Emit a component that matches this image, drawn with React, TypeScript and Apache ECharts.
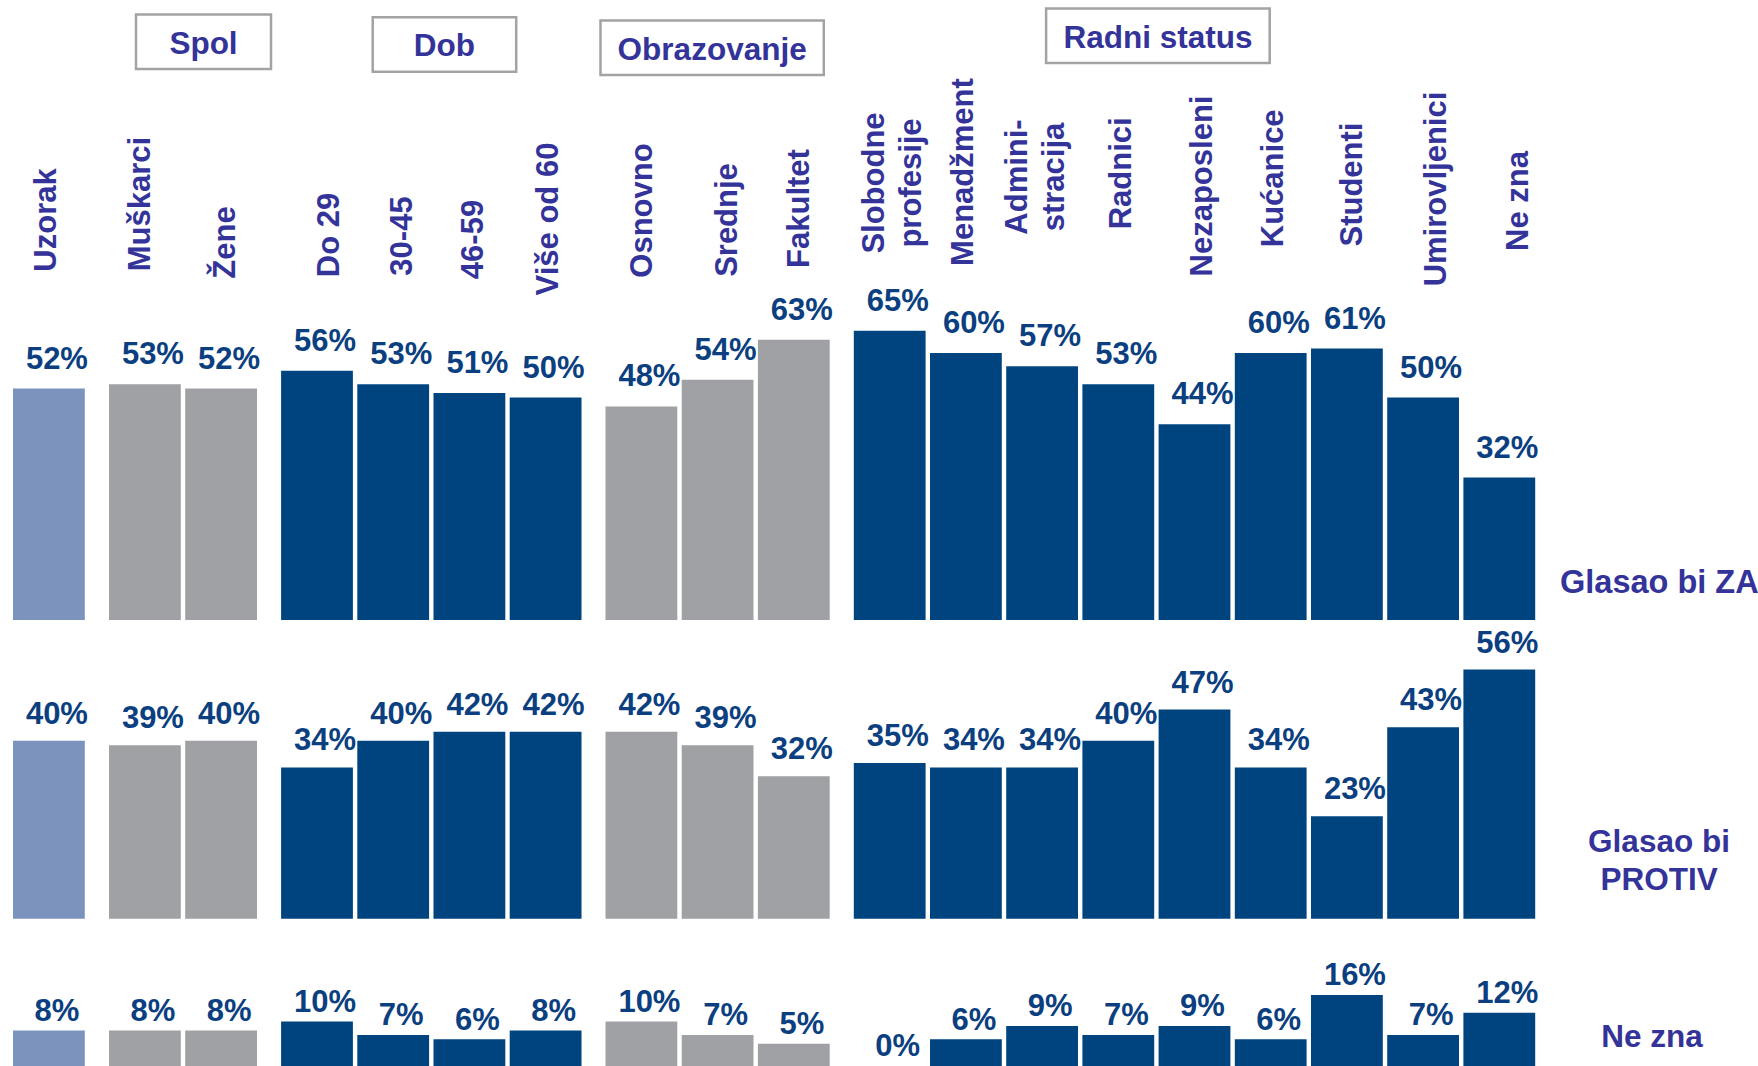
import React, { useEffect, useRef } from 'react';
import * as echarts from 'echarts';

// ---------- data ----------
const groupCategories: string[][] = [
  ['Uzorak'],
  ['Muškarci', 'Žene'],
  ['Do 29', '30-45', '46-59', 'Više od 60'],
  ['Osnovno', 'Srednje', 'Fakultet'],
  ['Slobodne\nprofesije', 'Menadžment', 'Admini-\nstracija', 'Radnici', 'Nezaposleni', 'Kućanice', 'Studenti', 'Umirovljenici', 'Ne zna'],
];
const groupTitles = ['', 'Spol', 'Dob', 'Obrazovanje', 'Radni status'];
const rowNames = ['Glasao bi ZA', 'Glasao bi\nPROTIV', 'Ne zna'];

const zaValues = [[52], [53, 52], [56, 53, 51, 50], [48, 54, 63], [65, 60, 57, 53, 44, 60, 61, 50, 32]];
const protivValues = [[40], [39, 40], [34, 40, 42, 42], [42, 39, 32], [35, 34, 34, 40, 47, 34, 23, 43, 56]];
const neZnaValues = [[8], [8, 8], [10, 7, 6, 8], [10, 7, 5], [0, 6, 9, 7, 9, 6, 16, 7, 12]];
const rowValues = [zaValues, protivValues, neZnaValues];

// ---------- layout & style ----------
const W = 1758;
const H = 1066;
const PITCH = 76.2;
const BAR_W = 71.8;
const PX_PER_PCT = 4.45;
const Y_MAX = 100;
const groupLeft = [10.8, 106.8, 278.9, 603.3, 851.6];
const rowBaseline = [620, 918.7, 1066.5];
const labelDistance = [15, 12, 4.7];
const groupColors = ['#7C93BE', '#A0A1A5', '#00447F', '#A0A1A5', '#00447F'];
const catLabelPos: number[][] = [
  [45, 220], [139.5, 204], [224.7, 242.5], [328.5, 235], [401.5, 236], [472.7, 239.5], [547, 219],
  [641.6, 210.5], [726, 220], [798, 208.5], [891.5, 183], [962.5, 172], [1035, 177], [1120.6, 173.3],
  [1201, 186], [1272.8, 178.3], [1351.8, 184.5], [1435, 189], [1517, 201],
];
const titleBoxes: number[][] = [
  [], [136, 14.5, 135, 54.5], [372.7, 17.2, 143.5, 54.5], [600.5, 20.5, 223.3, 54.5], [1046.1, 8.5, 223.6, 54.5],
];
const rowNamePos: { x: number; y: number; align: string; size: number }[] = [
  { x: 1560, y: 581.5, align: 'left', size: 32.5 },
  { x: 1659, y: 860, align: 'center', size: 31.5 },
  { x: 1652, y: 1036, align: 'center', size: 31.5 },
];
const FONT = "'Liberation Sans', Arial, Helvetica, sans-serif";
const TEXT_COLOR = '#333399';
const VALUE_COLOR = '#0B3F7F';

function buildOption() {
  const grids: any[] = [];
  const xAxes: any[] = [];
  const yAxes: any[] = [];
  const series: any[] = [];
  rowValues.forEach((rowVals, r) => {
    groupCategories.forEach((cats, g) => {
      const idx = r * groupCategories.length + g;
      grids.push({
        left: groupLeft[g],
        width: cats.length * PITCH,
        top: rowBaseline[r] - Y_MAX * PX_PER_PCT,
        height: Y_MAX * PX_PER_PCT,
        containLabel: false,
      });
      xAxes.push({ type: 'category', gridIndex: idx, data: cats, show: false });
      yAxes.push({ type: 'value', gridIndex: idx, min: 0, max: Y_MAX, show: false });
      series.push({
        type: 'bar',
        xAxisIndex: idx,
        yAxisIndex: idx,
        data: rowVals[g],
        barWidth: BAR_W,
        itemStyle: { color: groupColors[g] },
        label: {
          show: true,
          position: 'top',
          distance: labelDistance[r],
          offset: [8, 0],
          formatter: '{c}%',
          color: VALUE_COLOR,
          fontSize: 31,
          fontWeight: 'bold',
          fontFamily: FONT,
        },
      });
    });
  });

  const graphics: any[] = [];
  let k = 0;
  groupCategories.forEach((cats) => {
    cats.forEach((c) => {
      const p = catLabelPos[k++];
      graphics.push({
        type: 'text',
        x: p[0],
        y: p[1],
        rotation: Math.PI / 2,
        style: {
          text: c,
          fill: TEXT_COLOR,
          fontSize: 31,
          fontWeight: 'bold',
          fontFamily: FONT,
          align: 'center',
          verticalAlign: 'middle',
          lineHeight: 37,
        },
      });
    });
  });
  groupTitles.forEach((t, g) => {
    if (!t) return;
    const b = titleBoxes[g];
    graphics.push({
      type: 'rect',
      shape: { x: b[0], y: b[1], width: b[2], height: b[3] },
      style: { fill: '#FFFFFF', stroke: '#A3A3A3', lineWidth: 2.5 },
    });
    graphics.push({
      type: 'text',
      x: b[0] + b[2] / 2,
      y: b[1] + b[3] / 2 + 1,
      style: {
        text: t,
        fill: TEXT_COLOR,
        fontSize: 31.5,
        fontWeight: 'bold',
        fontFamily: FONT,
        align: 'center',
        verticalAlign: 'middle',
      },
    });
  });
  rowNames.forEach((n, r) => {
    const p = rowNamePos[r];
    graphics.push({
      type: 'text',
      x: p.x,
      y: p.y,
      style: {
        text: n,
        fill: TEXT_COLOR,
        fontSize: p.size,
        fontWeight: 'bold',
        fontFamily: FONT,
        align: p.align,
        verticalAlign: 'middle',
        lineHeight: 38,
      },
    });
  });

  return {
    animation: false,
    backgroundColor: '#FFFFFF',
    grid: grids,
    xAxis: xAxes,
    yAxis: yAxes,
    series,
    graphic: graphics,
  };
}

export default function App() {
  const ref = useRef<HTMLDivElement>(null);
  useEffect(() => {
    if (!ref.current) return;
    const chart = echarts.init(ref.current, null, { renderer: 'svg' });
    chart.setOption(buildOption());
    return () => chart.dispose();
  }, []);
  return (
    <div
      ref={ref}
      style={{ position: 'absolute', left: 0, top: 0, width: W, height: H, overflow: 'hidden' }}
    />
  );
}
